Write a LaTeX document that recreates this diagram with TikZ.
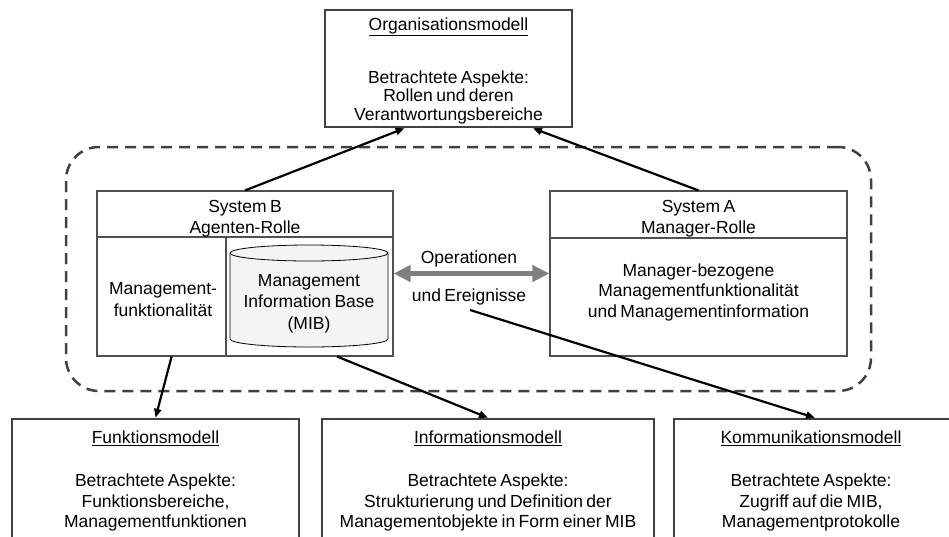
\documentclass[tikz,border=0pt]{standalone}
\usepackage{fontspec}
\setmainfont[WordSpace=0.7]{Liberation Sans}
\usetikzlibrary{arrows.meta,calc}

\definecolor{frameGray}{HTML}{3F4244}
\definecolor{thinGray}{HTML}{505050}
\definecolor{flowGray}{HTML}{808080}
\definecolor{cylFill}{HTML}{F4F4F4}

\tikzset{
  txt/.style={font=\fontsize{17.5}{20.5}\selectfont, align=center, inner sep=0pt},
  modelbox/.style={draw=frameGray, line width=2.5pt, inner sep=0pt, rectangle},
  sysbox/.style={draw=thinGray, line width=1.1pt, inner sep=0pt, rectangle},
  divider/.style={draw=thinGray, line width=1.1pt},
  groupframe/.style={draw=frameGray, line width=2.5pt, dash pattern=on 11pt off 7pt,
    rounded corners=33pt, inner sep=0pt, rectangle},
  conn/.style={draw=black, line width=2.2pt, -{Triangle[length=9pt,width=7pt]}},
  flow/.style={draw=flowGray, line width=5pt,
    {Triangle[length=17pt,width=16pt]}-{Triangle[length=17pt,width=16pt]}},
  cyl/.style={draw=black, line width=0.8pt, fill=cylFill}
}

\begin{document}
\begin{tikzpicture}[x=1pt,y=-1pt]
  \clip (0,0) rectangle (949,536);
  \fill[white] (0,0) rectangle (949,536);

  % grouping frame around both systems
  \node[groupframe, minimum width=805pt, minimum height=244pt] (group) at (468.5,269) {};

  % organisation model
  \node[modelbox, minimum width=247pt, minimum height=117pt] (org) at (448.5,68.5) {};
  \node[txt] (orgT) at (448.5,27) {\underline{Organisationsmodell}};
  \node[txt, font=\fontsize{17.5}{18.5}\selectfont] (orgB) at (448.5,97)
    {Betrachtete Aspekte:\\Rollen und deren\\Verantwortungsbereiche};

  % system B (agent)
  \node[sysbox, minimum width=296pt, minimum height=165pt] (sysB) at (245,273.5) {};
  \coordinate (bDivL) at (97,237);
  \coordinate (bDivR) at (393,237);
  \coordinate (bVertT) at (226,237);
  \coordinate (bVertB) at (226,356);
  \draw[divider] (bDivL) -- (bDivR);
  \draw[divider] (bVertT) -- (bVertB);
  \node[txt, font=\fontsize{17.5}{21.5}\selectfont] (sysBT) at (245,218.5) {System B\\Agenten-Rolle};
  \node[txt, font=\fontsize{17.5}{22}\selectfont] (mgmtF) at (163,299.5) {Management-\\funktionalität};

  % MIB cylinder
  \filldraw[cyl] (230,253) -- (230,339)
    arc[start angle=180, end angle=360, x radius=79pt, y radius=8pt]
    -- (388,253)
    arc[start angle=0, end angle=180, x radius=79pt, y radius=8pt] -- cycle;
  \draw[cyl, fill=none] (230,253)
    arc[start angle=180, end angle=360, x radius=79pt, y radius=8pt];
  \node[txt, font=\fontsize{17.5}{21.5}\selectfont] (mib) at (309,303.5)
    {Management\\Information Base\\(MIB)};

  % system A (manager)
  \node[sysbox, minimum width=297pt, minimum height=165pt] (sysA) at (698.5,273.5) {};
  \coordinate (aDivL) at (550,238);
  \coordinate (aDivR) at (847,238);
  \draw[divider] (aDivL) -- (aDivR);
  \node[txt, font=\fontsize{17.5}{21}\selectfont] (sysAT) at (698.5,218.5) {System A\\Manager-Rolle};
  \node[txt, font=\fontsize{17.5}{20.5}\selectfont] (sysAB) at (698.5,292)
    {Manager-bezogene\\Managementfunktionalität\\und Managementinformation};

  % operations and events between the systems
  \draw[flow] (sysB.east) -- (sysA.west);
  \node[txt] (ops) at (469,259) {Operationen};
  \node[txt] (evts) at (469,297) {und Ereignisse};
  \coordinate (evtOut) at (470,310);

  % lower models
  \node[modelbox, minimum width=287pt, minimum height=200pt] (funk) at (155.5,519) {};
  \node[txt] (funkT) at (155.5,438) {\underline{Funktionsmodell}};
  \node[txt] (funkB) at (155.5,502.5)
    {Betrachtete Aspekte:\\Funktionsbereiche,\\Managementfunktionen};

  \node[modelbox, minimum width=332pt, minimum height=200pt] (info) at (488,519) {};
  \node[txt] (infoT) at (488,438) {\underline{Informationsmodell}};
  \node[txt] (infoB) at (488,502.5)
    {Betrachtete Aspekte:\\Strukturierung und Definition der\\Managementobjekte in Form einer MIB};

  \node[modelbox, minimum width=282pt, minimum height=200pt] (komm) at (815,519) {};
  \node[txt] (kommT) at (811,438) {\underline{Kommunikationsmodell}};
  \node[txt] (kommB) at (811,502.5)
    {Betrachtete Aspekte:\\Zugriff auf die MIB,\\Managementprotokolle};

  % relations to the models
  \draw[conn] (sysB.north) -- ($(org.south west)!0.324!(org.south east)$);
  \draw[conn] (sysA.north) -- ($(org.south west)!0.838!(org.south east)$);
  \draw[conn] ($(sysB.south west)!0.253!(sysB.south east)$) -- (funk.north);
  \draw[conn] ($(sysB.south west)!0.81!(sysB.south east)$) -- (info.north);
  \draw[conn] (evtOut) -- (komm.north);
\end{tikzpicture}
\end{document}
